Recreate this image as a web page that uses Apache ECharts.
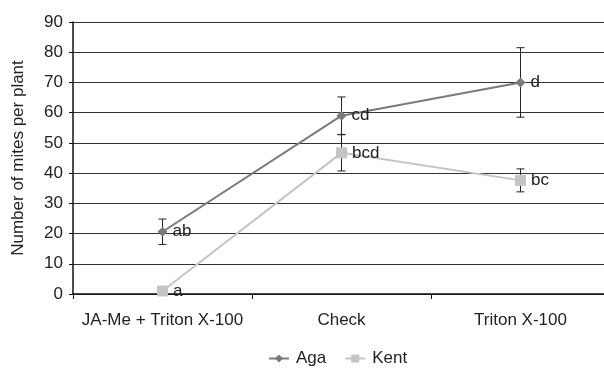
<!DOCTYPE html>
<html><head><meta charset="utf-8">
<script src="https://cdn.jsdelivr.net/npm/echarts@6/dist/echarts.min.js"></script>
<style>html,body{margin:0;padding:0;background:#fff}#c{width:604px;height:369px}</style>
</head><body><div id="c"></div>
<script>
var categories = ["JA-Me + Triton X-100", "Check", "Triton X-100"];
var agaValues = [20.6, 59.0, 70.0];
var agaErrors = [4.2, 6.2, 11.5];
var agaLetters = ["ab", "cd", "d"];
var kentValues = [1.0, 46.7, 37.6];
var kentErrors = [0, 6.0, 3.8];
var kentLetters = ["a", "bcd", "bc"];
var yTicks = [0, 10, 20, 30, 40, 50, 60, 70, 80, 90];

var font = "'Liberation Sans', Arial, sans-serif";

function errData(vals, errs) {
  return vals.map(function (v, i) { return [i, v - errs[i], v + errs[i]]; });
}
function errRender(params, api) {
  var x = api.value(0);
  var lo = api.coord([x, api.value(1)]);
  var hi = api.coord([x, api.value(2)]);
  if (Math.abs(lo[1] - hi[1]) < 1) return null;
  var w = 4;
  var st = { stroke: '#222', lineWidth: 1 };
  return {
    type: 'group',
    children: [
      { type: 'line', shape: { x1: lo[0], y1: lo[1], x2: hi[0], y2: hi[1] }, style: st },
      { type: 'line', shape: { x1: lo[0] - w, y1: lo[1], x2: lo[0] + w, y2: lo[1] }, style: st },
      { type: 'line', shape: { x1: hi[0] - w, y1: hi[1], x2: hi[0] + w, y2: hi[1] }, style: st }
    ]
  };
}

var chart = echarts.init(document.getElementById('c'));
chart.setOption({
  animation: false,
  textStyle: { fontFamily: font },
  grid: { left: 73, top: 22, width: 537, height: 272, outerBoundsMode: 'none', containLabel: false },
  legend: {
    top: 345, left: 263,
    data: ['Aga', 'Kent'],
    itemWidth: 20, itemHeight: 10, itemGap: 18,
    textStyle: { fontFamily: font, fontSize: 17, color: '#222', padding: [0, 0, 0, 2] }
  },
  xAxis: {
    type: 'category',
    data: categories,
    boundaryGap: true,
    axisLine: { lineStyle: { color: '#111', width: 1.5 } },
    axisTick: { show: true, interval: 0, length: 5, lineStyle: { color: '#111' } },
    axisLabel: { interval: 0, fontFamily: font, fontSize: 17, color: '#222', margin: 18 }
  },
  yAxis: {
    type: 'value',
    min: yTicks[0], max: yTicks[yTicks.length - 1], interval: 10,
    name: 'Number of mites per plant',
    nameLocation: 'middle', nameGap: 46,
    nameTextStyle: { fontFamily: font, fontSize: 17, color: '#222' },
    axisLine: { show: true, lineStyle: { color: '#111', width: 1.5 } },
    axisTick: { show: true, length: 4, lineStyle: { color: '#111' } },
    axisLabel: { fontFamily: font, fontSize: 17, color: '#222', margin: 10 },
    splitLine: { lineStyle: { color: '#333', width: 1 } }
  },
  series: [
    {
      name: 'Aga', type: 'line', data: agaValues,
      symbol: 'diamond', symbolSize: 10,
      itemStyle: { color: '#7a7a7a' },
      lineStyle: { color: '#7a7a7a', width: 2 },
      label: { show: true, position: 'right', distance: 5, fontFamily: font, fontSize: 17, color: '#222',
        formatter: function (p) { return agaLetters[p.dataIndex]; } },
      z: 3
    },
    {
      name: 'Kent', type: 'line', data: kentValues,
      symbol: 'rect', symbolSize: 11,
      itemStyle: { color: '#c4c4c4' },
      lineStyle: { color: '#c4c4c4', width: 2 },
      label: { show: true, position: 'right', distance: 5, fontFamily: font, fontSize: 17, color: '#222',
        formatter: function (p) { return kentLetters[p.dataIndex]; } },
      z: 3
    },
    {
      type: 'custom', name: 'AgaErr', data: errData(agaValues, agaErrors),
      renderItem: errRender, z: 2, silent: true
    },
    {
      type: 'custom', name: 'KentErr', data: errData(kentValues, kentErrors),
      renderItem: errRender, z: 2, silent: true
    }
  ]
});
</script>
</body></html>
